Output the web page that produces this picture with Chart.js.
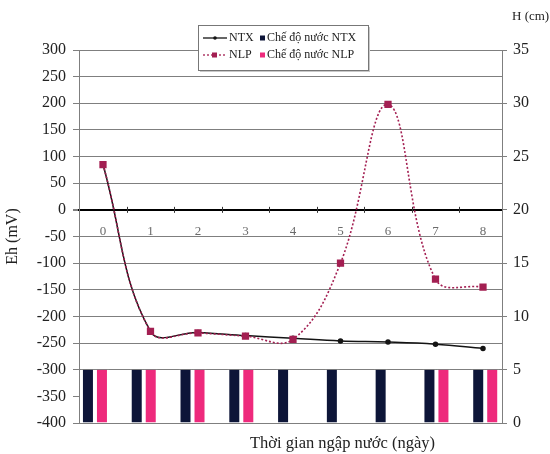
<!DOCTYPE html>
<html>
<head>
<meta charset="utf-8">
<script src="https://cdn.jsdelivr.net/npm/chart.js@4/dist/chart.umd.min.js"></script>
<style>
  body { margin: 0; background: #fff; }
  canvas { display: block; }
</style>
</head>
<body>
<canvas id="bieuDo" width="550" height="454"></canvas>
<script>
// Ngày ngập nước và số liệu đo
const ngay = [0, 1, 2, 3, 4, 5, 6, 7, 8];
const ehNTX = [85, -228, -230, -236, -241, -246, -248, -252, -260];
const ehNLP = [85, -228, -231, -237, -243, -100, 198, -130, -145];
const mucNuocNTX = [5, 5, 5, 5, 5, 5, 5, 5, 5];
const mucNuocNLP = [5, 5, 5, 5, null, null, null, 5, 5];

const tickEh = [-400, -350, -300, -250, -200, -150, -100, -50, 0, 50, 100, 150, 200, 250, 300];
const tickH = [0, 5, 10, 15, 20, 25, 30, 35];

const tenDuong = ['NTX', 'NLP'];
const tenCot = ['Chế độ nước NTX', 'Chế độ nước NLP'];

const mauNTX = '#141414';
const mauNLP = '#a31f52';
const mauCotNTX = '#0d1538';
const mauCotNLP = '#ee2a7c';
const mauLuoi = '#7f7f7f';
const FONT = "'Liberation Serif', 'Times New Roman', serif";

Chart.defaults.font.family = FONT;
Chart.defaults.color = '#222';

const datTick = (ds) => (scale) => { scale.ticks = ds.map(v => ({ value: v })); };

// màu lưới: trục 0 đậm, vùng cột không kẻ lưới giữa
const mauDongLuoi = (c) => {
    if (!c.tick) return mauLuoi;
    if (c.tick.value === 0) return '#000';
    if (c.tick.value === -350) return 'rgba(0,0,0,0)';
    return mauLuoi;
};

// cột rộng 14px, viền trắng 2px hai bên tạo khe giữa hai cột
const kieuCot = {
    barThickness: 14,
    borderWidth: { left: 2, right: 2, top: 0, bottom: 0 },
    borderColor: '#fff',
    inflateAmount: 0
};

// vạch chia trên trục 0, chú thích và tên trục
const vePhu = {
    id: 'vePhu',
    afterDraw(chart) {
        const c = chart.ctx;
        const area = chart.chartArea;
        const x = chart.scales.x;
        const y0 = chart.scales.y.getPixelForValue(0);
        c.save();

        c.strokeStyle = '#333';
        c.lineWidth = 1;
        ngay.forEach(d => {
            const px = Math.round(x.getPixelForValue(d + 0.5)) + 0.5;
            if (px > area.right + 4) return;
            c.beginPath();
            c.moveTo(px, y0 - 3);
            c.lineTo(px, y0 + 3);
            c.stroke();
        });

        // hộp chú thích
        const bx = 198, by = 25, bw = 170, bh = 45;
        c.fillStyle = '#c8c8c8';
        c.fillRect(bx + 2, by + 2, bw, bh);
        c.fillStyle = '#fff';
        c.fillRect(bx, by, bw, bh);
        c.strokeStyle = '#777';
        c.strokeRect(bx + 0.5, by + 0.5, bw, bh);

        c.font = '12px ' + FONT;
        c.textBaseline = 'middle';
        c.textAlign = 'left';
        const hang = [
            { ten: tenDuong[0], mau: mauNTX, net: [], dau: 'tron', cot: tenCot[0], mauCot: mauCotNTX },
            { ten: tenDuong[1], mau: mauNLP, net: [2, 2], dau: 'vuong', cot: tenCot[1], mauCot: mauCotNLP }
        ];
        hang.forEach((h, i) => {
            const yy = by + 13 + i * 17;
            c.strokeStyle = h.mau;
            c.lineWidth = 1.3;
            c.setLineDash(h.net);
            c.beginPath();
            c.moveTo(bx + 5, yy);
            c.lineTo(bx + 29, yy);
            c.stroke();
            c.setLineDash([]);
            c.fillStyle = h.mau;
            if (h.dau === 'vuong') c.fillRect(bx + 14, yy - 2.5, 5, 5);
            else { c.beginPath(); c.arc(bx + 17, yy, 1.8, 0, Math.PI * 2); c.fill(); }
            c.fillStyle = '#222';
            c.fillText(h.ten, bx + 31, yy);
            c.fillStyle = h.mauCot;
            c.fillRect(bx + 62, yy - 2.5, 5, 5);
            c.fillStyle = '#222';
            c.fillText(h.cot, bx + 69, yy);
        });

        // tên trục
        c.fillStyle = '#222';
        c.font = '13px ' + FONT;
        c.textAlign = 'left';
        c.fillText('H (cm)', area.right + 10, 17);
        c.font = '16.5px ' + FONT;
        c.textAlign = 'center';
        c.fillText('Thời gian ngập nước (ngày)', (area.left + area.right) / 2 + 52, area.bottom + 21);
        c.restore();
    }
};

const ctx = document.getElementById('bieuDo').getContext('2d');
const chart = new Chart(ctx, {
    data: {
        datasets: [
            {
                type: 'line',
                label: tenDuong[1],
                data: ngay.map((d, i) => ({ x: d, y: ehNLP[i] })),
                xAxisID: 'x',
                yAxisID: 'y',
                borderColor: mauNLP,
                borderWidth: 1.6,
                borderDash: [2, 2],
                pointStyle: 'rect',
                pointRadius: 4,
                pointBackgroundColor: mauNLP,
                pointBorderColor: mauNLP,
                tension: 0.4,
                order: 0
            },
            {
                type: 'line',
                label: tenDuong[0],
                data: ngay.map((d, i) => ({ x: d, y: ehNTX[i] })),
                xAxisID: 'x',
                yAxisID: 'y',
                borderColor: mauNTX,
                borderWidth: 1.5,
                pointRadius: 2,
                pointBackgroundColor: mauNTX,
                pointBorderColor: mauNTX,
                tension: 0.4,
                order: 1
            },
            {
                type: 'bar',
                label: tenCot[0],
                data: ngay.map((d, i) => ({ x: d, y: mucNuocNTX[i] })),
                xAxisID: 'x2',
                yAxisID: 'y1',
                backgroundColor: mauCotNTX,
                ...kieuCot,
                order: 2
            },
            {
                type: 'bar',
                label: tenCot[1],
                data: ngay.map((d, i) => ({ x: d, y: mucNuocNLP[i] })),
                xAxisID: 'x2',
                yAxisID: 'y1',
                backgroundColor: mauCotNLP,
                ...kieuCot,
                order: 3
            }
        ]
    },
    options: {
        responsive: false,
        animation: false,
        layout: { padding: { top: 50, bottom: 31, left: 0, right: 0 } },
        plugins: {
            legend: { display: false },
            tooltip: { enabled: false }
        },
        scales: {
            x: {
                type: 'linear',
                position: { y: 0 },
                offset: false,
                min: -0.505,
                max: 8.4,
                afterBuildTicks: datTick(ngay),
                grid: { display: false },
                border: { display: true, color: '#000', width: 2 },
                ticks: { color: '#6a6a6a', font: { size: 13 }, padding: 6 }
            },
            x2: {
                type: 'linear',
                display: false,
                offset: false,
                grid: { offset: false },
                min: -0.327,
                max: 8.344,
                ticks: { stepSize: 1, includeBounds: false },
                afterBuildTicks: datTick(ngay)
            },
            y: {
                position: 'left',
                min: -400,
                max: 300,
                afterBuildTicks: datTick(tickEh),
                afterFit: (s) => { s.width = 79; },
                grid: {
                    color: mauDongLuoi,
                    lineWidth: (c) => c.tick && c.tick.value === 0 ? 2 : 1,
                    tickLength: 6,
                    tickColor: mauLuoi
                },
                border: { color: mauLuoi },
                ticks: { font: { size: 16 }, padding: 7, color: '#222' },
                title: { display: true, text: 'Eh (mV)', font: { size: 16 }, padding: { top: 3, bottom: 0 } }
            },
            y1: {
                position: 'right',
                min: 0,
                max: 35,
                afterBuildTicks: datTick(tickH),
                afterFit: (s) => { s.width = 48; },
                grid: { drawOnChartArea: false, tickLength: 5, color: mauLuoi },
                border: { color: mauLuoi },
                ticks: { font: { size: 16 }, padding: 6, color: '#222' }
            }
        }
    },
    plugins: [vePhu]
});
</script>
</body>
</html>
